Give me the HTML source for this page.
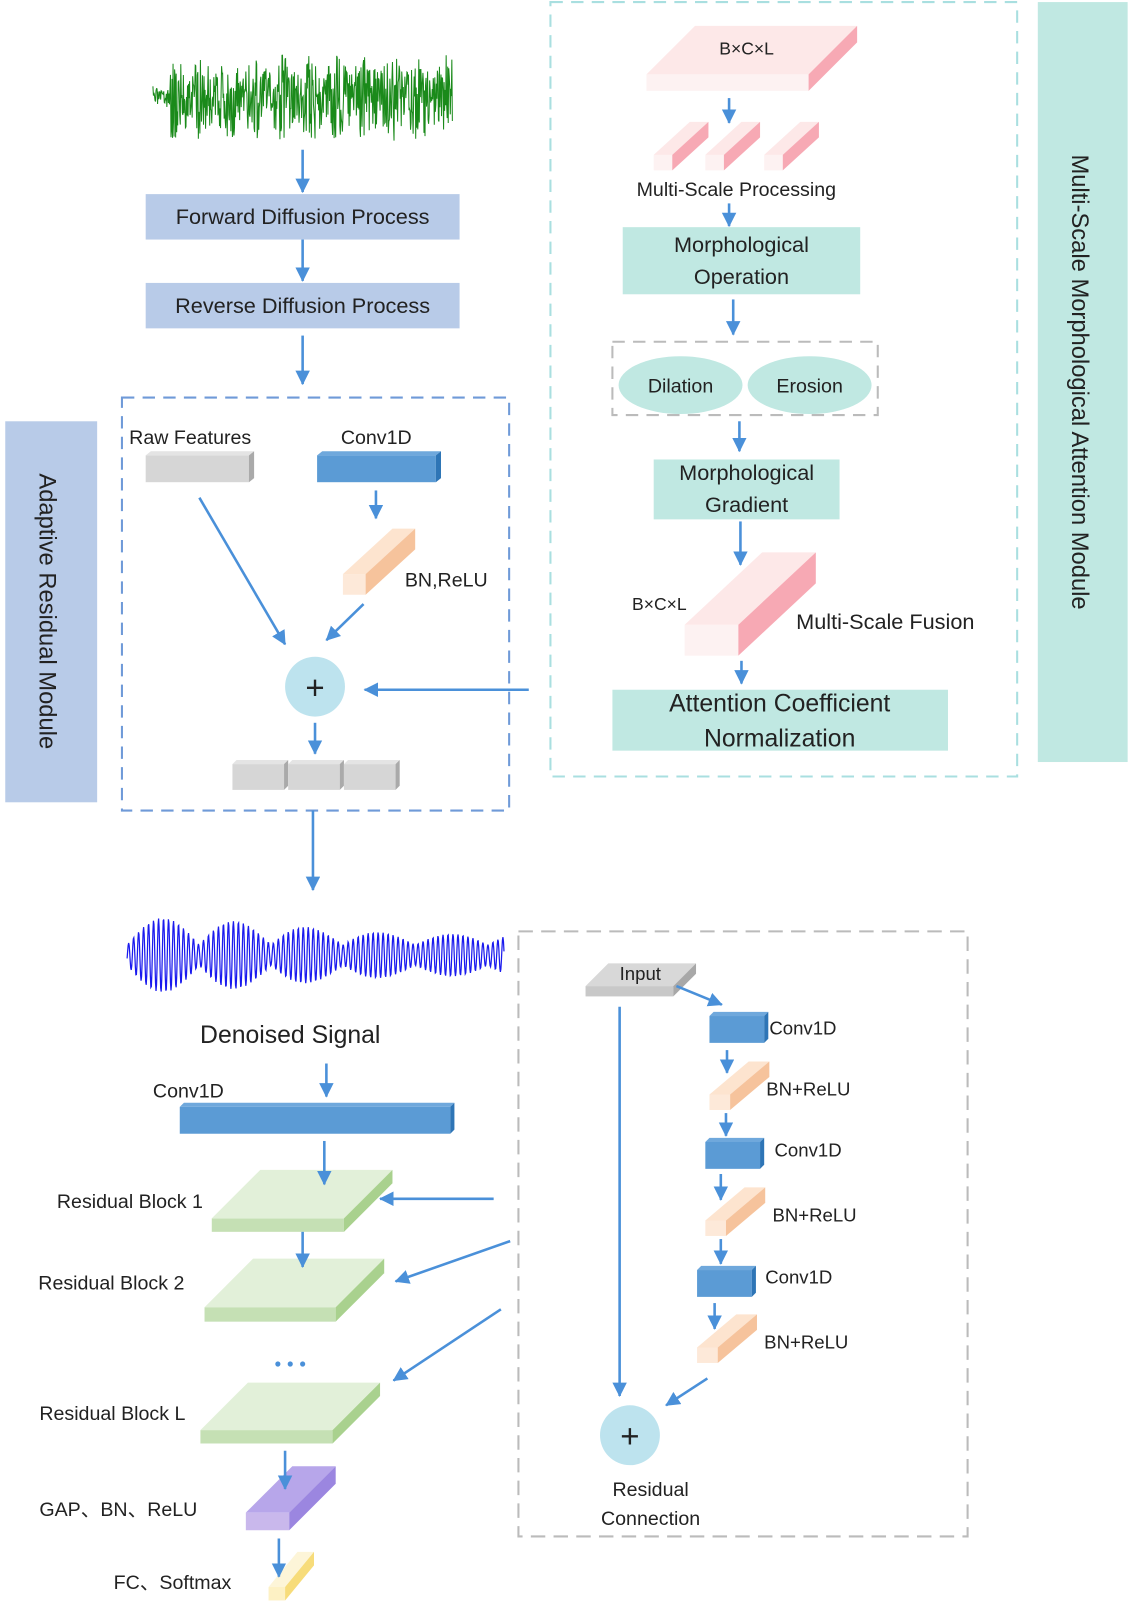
<!DOCTYPE html>
<html><head><meta charset="utf-8"><style>
html,body{margin:0;padding:0;background:#fff;}
svg{display:block;}
text{font-family:"Liberation Sans","DejaVu Sans",sans-serif;fill:#222;}
</style></head><body>
<svg id="s" width="1136" height="1618" viewBox="0 0 1100 1567" xmlns="http://www.w3.org/2000/svg">
<defs>
<marker id="ar" markerWidth="16" markerHeight="16" refX="13" refY="7" orient="auto" markerUnits="userSpaceOnUse"><path d="M0,0 L14,7 L0,14 z" fill="#4a90d9"/></marker>
</defs>
<rect x="5" y="408" width="89" height="369" fill="#b8cbe8"/>
<text transform="translate(38,592) rotate(90)" text-anchor="middle" font-size="23">Adaptive Residual Module</text>
<rect x="1005" y="2" width="87" height="736" fill="#c0e8e2"/>
<text transform="translate(1038,370) rotate(90)" text-anchor="middle" font-size="23">Multi-Scale Morphological Attention Module</text>
<rect x="141" y="188" width="304" height="44" fill="#b8cbe8"/>
<text x="293" y="217" text-anchor="middle" font-size="21">Forward Diffusion Process</text>
<rect x="141" y="274" width="304" height="44" fill="#b8cbe8"/>
<text x="293" y="303" text-anchor="middle" font-size="21">Reverse Diffusion Process</text>
<rect x="118" y="385" width="375" height="400" fill="none" stroke="#6f9ad8" stroke-width="2" stroke-dasharray="12,8"/>
<rect x="533" y="2" width="452" height="750" fill="none" stroke="#a9dfe0" stroke-width="2" stroke-dasharray="12,8"/>
<rect x="502" y="902" width="435" height="586" fill="none" stroke="#bbb" stroke-width="2" stroke-dasharray="14,8"/>
<rect x="593" y="331" width="257" height="71" fill="none" stroke="#bbb" stroke-width="2" stroke-dasharray="12,8"/>
<rect x="603" y="220" width="230" height="65" fill="#c0e8e2"/>
<text x="718" y="244" text-anchor="middle" font-size="21">Morphological</text>
<text x="718" y="275" text-anchor="middle" font-size="21">Operation</text>
<ellipse cx="659" cy="373" rx="60" ry="28" fill="#c0e8e2"/>
<ellipse cx="784" cy="373" rx="60" ry="28" fill="#c0e8e2"/>
<text x="659" y="380" text-anchor="middle" font-size="19">Dilation</text>
<text x="784" y="380" text-anchor="middle" font-size="19">Erosion</text>
<rect x="633" y="445" width="180" height="58" fill="#c0e8e2"/>
<text x="723" y="465" text-anchor="middle" font-size="21">Morphological</text>
<text x="723" y="496" text-anchor="middle" font-size="21">Gradient</text>
<rect x="593" y="668" width="325" height="59" fill="#c0e8e2"/>
<text x="755" y="689" text-anchor="middle" font-size="24">Attention Coefficient</text>
<text x="755" y="723" text-anchor="middle" font-size="24">Normalization</text>
<g id="g"></g>
<circle cx="305" cy="665" r="29" fill="#bde3ee"/>
<text x="305" y="677" text-anchor="middle" font-size="32" fill="#333">+</text>
<circle cx="610" cy="1390" r="29" fill="#bde3ee"/>
<text x="610" y="1402" text-anchor="middle" font-size="32" fill="#333">+</text>
<text x="723" y="53" text-anchor="middle" font-size="17">B×C×L</text>
<text x="713" y="190" text-anchor="middle" font-size="19">Multi-Scale Processing</text>
<text x="612" y="591" font-size="17">B×C×L</text>
<text x="771" y="609" font-size="21">Multi-Scale Fusion</text>
<text x="125" y="430" font-size="19">Raw Features</text>
<text x="330" y="430" font-size="19">Conv1D</text>
<text x="392" y="568" font-size="19">BN,ReLU</text>
<text x="281" y="1010" text-anchor="middle" font-size="24">Denoised Signal</text>
<text x="148" y="1063" font-size="19">Conv1D</text>
<text x="55" y="1170" font-size="19">Residual Block 1</text>
<text x="37" y="1249" font-size="19">Residual Block 2</text>
<text x="38" y="1375" font-size="19">Residual Block L</text>
<text x="38" y="1468" font-size="19">GAP、BN、ReLU</text>
<text x="110" y="1539" font-size="19">FC、Softmax</text>
<text x="600" y="949" font-size="18">Input</text>
<text x="745" y="1002" font-size="18">Conv1D</text>
<text x="742" y="1061" font-size="18">BN+ReLU</text>
<text x="750" y="1120" font-size="18">Conv1D</text>
<text x="748" y="1183" font-size="18">BN+ReLU</text>
<text x="741" y="1243" font-size="18">Conv1D</text>
<text x="740" y="1306" font-size="18">BN+ReLU</text>
<text x="630" y="1449" text-anchor="middle" font-size="19">Residual</text>
<text x="630" y="1477" text-anchor="middle" font-size="19">Connection</text>
<circle cx="269" cy="1321" r="2.5" fill="#4a90d9"/><circle cx="281" cy="1321" r="2.5" fill="#4a90d9"/><circle cx="293" cy="1321" r="2.5" fill="#4a90d9"/>
</svg>
<script>
var g=document.getElementById('g'),NS='http://www.w3.org/2000/svg';
function el(t,a){var e=document.createElementNS(NS,t);for(var k in a)e.setAttribute(k,a[k]);g.appendChild(e);return e;}
function prism(x,y,w,h,dx,dy,f,t,s){
el('rect',{x:x,y:y,width:w,height:h,fill:f});
el('polygon',{points:[x,y,x+dx,y-dy,x+w+dx,y-dy,x+w,y].join(' '),fill:t});
el('polygon',{points:[x+w,y,x+w+dx,y-dy,x+w+dx,y+h-dy,x+w,y+h].join(' '),fill:s});}
function arr(x1,y1,x2,y2){el('line',{x1:x1,y1:y1,x2:x2,y2:y2,stroke:'#4a90d9','stroke-width':2.5,'marker-end':'url(#ar)'});}
var pk=['#fdf2f2','#fde8e8','#f7a9b4'],bl=['#5b9bd5','#6fa8dc','#2e75b6'],gr=['#d6d6d6','#e4e4e4','#aaaaaa'],pe=['#fde9d9','#fde4cf','#f6c39c'],gn=['#c5e0b4','#e2f0d9','#a9d18e'];
function P(a,c){prism(a[0],a[1],a[2],a[3],a[4],a[5],c[0],c[1],c[2]);}
P([626,72,157,16,47,47],pk);
[633,683,740].forEach(function(x){P([x,150,18,15,35,32],pk);});
P([663,605,52,30,75,70],pk);
P([141,441,100,26,5,4],gr);
P([307,441,115,26,5,4],bl);
P([332,556,22,20,48,44],pe);
[225,279,333].forEach(function(x){P([x,740,50,25,4,4],gr);});
P([174,1072,262,26,4,4],bl);
P([205,1180,128,13,47,47],gn);
P([198,1266,127,14,47,47],gn);
P([194,1385,128,13,46,46],gn);
P([238,1465,42,17,45,45],['#c9b8ec','#b7a6ea','#9b86e0']);
P([260,1537,16,13,28,34],['#fdf1c4','#fdf5d8','#f7dc7a']);
P([567,955,85,10,22,22],['#c8c8c8','#d8d8d8','#a8a8a8']);
P([687,984,53,26,4,4],bl);P([683,1106,53,26,4,4],bl);P([675,1230,53,26,4,4],bl);
P([687,1060,20,15,38,32],pe);P([683,1182,20,15,38,32],pe);P([675,1305,20,15,38,32],pe);
arr(293,145,293,186);arr(293,232,293,272);arr(293,325,293,372);
arr(364,475,364,502);arr(193,482,276,624);arr(352,585,316,620);arr(512,668,353,668);
arr(305,700,305,730);arr(303,785,303,862);
arr(706,95,706,119);arr(706,197,706,219);arr(710,290,710,324);arr(716,408,716,437);arr(717,505,717,547);arr(718,640,718,662);
arr(316,1030,316,1062);arr(314,1105,314,1147);arr(478,1161,368,1161);arr(293,1193,293,1227);
arr(494,1202,383,1241);arr(485,1268,381,1337);arr(276,1405,276,1442);arr(270,1490,270,1527);
arr(655,955,699,973);arr(704,1017,704,1039);arr(703,1078,703,1100);arr(698,1137,698,1162);arr(698,1200,698,1224);arr(692,1262,692,1287);
arr(685,1335,645,1361);arr(600,975,600,1352);
var p=[],seed=3;function r(){seed=(seed*16807)%2147483647;return seed/2147483647;}
for(var x=148;x<=438;x+=0.5){var a=(x<165?12:42)*(0.55+0.45*Math.abs(Math.sin(x*0.12)));p.push(x.toFixed(1)+','+(95+(r()*2-1)*a).toFixed(1));}
el('polyline',{points:p.join(' '),fill:'none',stroke:'#1a8a1a','stroke-width':1});
var q=[];for(var x=123;x<=488;x+=0.5){var env=10+26*Math.abs(Math.sin((x-123)*0.045))*(0.7+0.3*Math.sin(x*0.011));q.push(x.toFixed(1)+','+(925+env*Math.sin(x*1.3)).toFixed(1));}
el('polyline',{points:q.join(' '),fill:'none',stroke:'#1a1aee','stroke-width':1.2});
</script>
</body></html>
